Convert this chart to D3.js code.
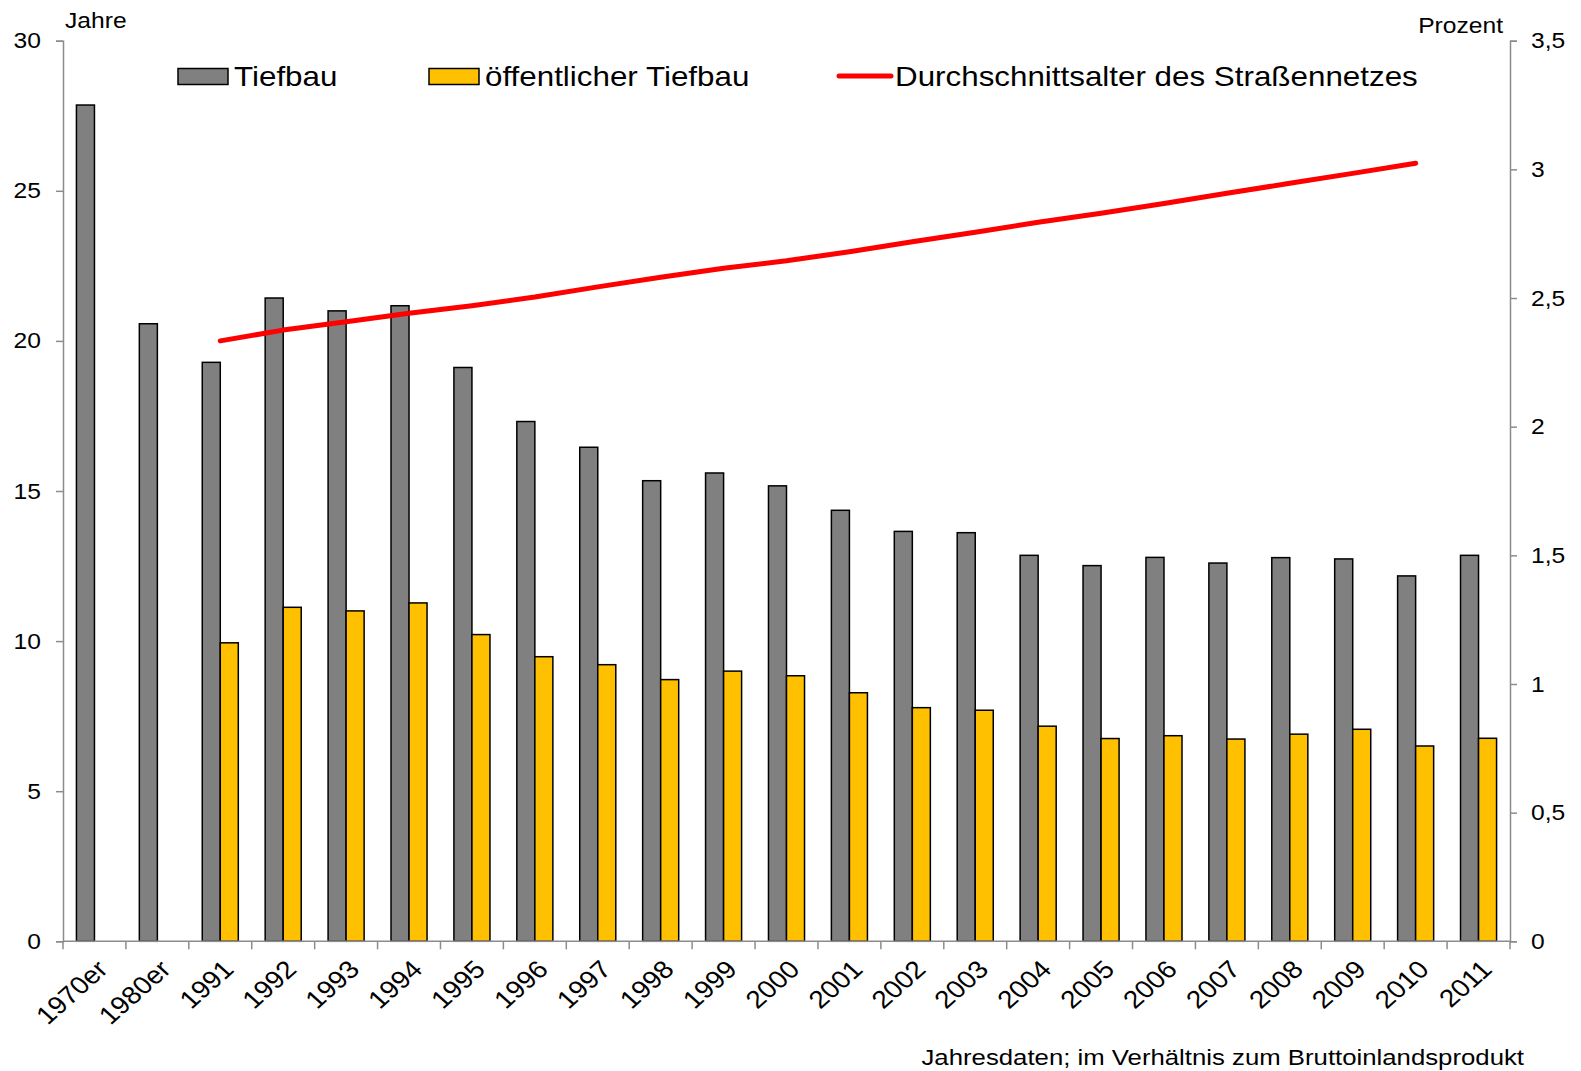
<!DOCTYPE html>
<html>
<head>
<meta charset="utf-8">
<script src="https://cdn.jsdelivr.net/npm/d3@7"></script>
<style>
  body { margin: 0; background: #fff; }
  svg { font-family: "Liberation Sans", Arial, sans-serif; }
</style>
</head>
<body>
<svg id="chart"></svg>
<script>
// categories on the x axis
const categories = ["1970er", "1980er", "1991", "1992", "1993", "1994", "1995", "1996", "1997", "1998",
  "1999", "2000", "2001", "2002", "2003", "2004", "2005", "2006", "2007", "2008", "2009", "2010", "2011"];

// Tiefbau, percent of GDP (right axis)
const tiefbau = [3.25, 2.40, 2.25, 2.50, 2.45, 2.47, 2.23, 2.02, 1.92, 1.79, 1.82, 1.77,
  1.675, 1.593, 1.588, 1.50, 1.46, 1.492, 1.47, 1.491, 1.486, 1.42, 1.50];

// öffentlicher Tiefbau, percent of GDP (right axis), none for the decades
const oeffTiefbau = [null, null, 1.16, 1.298, 1.284, 1.315, 1.192, 1.106, 1.075, 1.017, 1.05, 1.032,
  0.966, 0.908, 0.898, 0.836, 0.788, 0.799, 0.786, 0.805, 0.824, 0.759, 0.789];

// average age of the road network, years (left axis), 1991-2010
const alterYears = ["1991", "1992", "1993", "1994", "1995", "1996", "1997", "1998", "1999", "2000",
  "2001", "2002", "2003", "2004", "2005", "2006", "2007", "2008", "2009", "2010"];
const alter = [20.0, 20.36, 20.64, 20.92, 21.17, 21.46, 21.8, 22.12, 22.42, 22.67,
  22.97, 23.3, 23.62, 23.95, 24.25, 24.58, 24.92, 25.25, 25.58, 25.92];

const leftTicks = [0, 5, 10, 15, 20, 25, 30];
const rightTicks = [0, 0.5, 1, 1.5, 2, 2.5, 3, 3.5];

const width = 1581, height = 1071;
const margin = { left: 63, right: 71, top: 40.7, bottom: 129.7 };
const axisColor = "#8c8c8c";
const SX = 1.12; // text in the original is a bit wider than it is tall

const svg = d3.select("#chart").attr("width", width).attr("height", height);

const x = d3.scaleBand()
  .domain(categories)
  .range([margin.left, width - margin.right])
  .paddingInner(0.427)
  .paddingOuter(0.2135);
const xStep = d3.scaleBand().domain(categories).range([margin.left, width - margin.right]);
const xSub = d3.scaleBand().domain([0, 1]).range([0, x.bandwidth()]);

const yLeft = d3.scaleLinear().domain([0, 30]).range([height - margin.bottom, margin.top]);
const yRight = d3.scaleLinear().domain([0, 3.5]).range([height - margin.bottom, margin.top]);

// helper: text at (px,py), stretched horizontally
function label(parent, px, py, txt, size, anchor) {
  return parent.append("text")
    .attr("transform", `translate(${px},${py}) scale(${SX},1)`)
    .attr("text-anchor", anchor || "start")
    .style("font-size", size + "px")
    .text(txt);
}

// bars
const bars = svg.append("g");
const series = [{ values: tiefbau, fill: "#808080" }, { values: oeffTiefbau, fill: "#FFC000" }];
series.forEach((s, si) => {
  bars.selectAll(null)
    .data(categories.map((c, i) => ({ c, v: s.values[i] })).filter(d => d.v != null))
    .join("rect")
    .attr("x", d => x(d.c) + xSub(si))
    .attr("width", xSub.bandwidth())
    .attr("y", d => yRight(d.v))
    .attr("height", d => yRight(0) - yRight(d.v))
    .attr("fill", s.fill)
    .attr("stroke", "#000")
    .attr("stroke-width", 1.5);
});

// left axis
const gl = svg.append("g")
  .attr("transform", `translate(${margin.left},0)`)
  .call(d3.axisLeft(yLeft).tickValues(leftTicks).tickSize(7).tickPadding(15));
// right axis
const gr = svg.append("g")
  .attr("transform", `translate(${width - margin.right},0)`)
  .call(d3.axisRight(yRight).tickValues(rightTicks).tickSize(7).tickPadding(14)
    .tickFormat(d => String(d).replace(".", ",")));
[gl, gr].forEach(g => {
  g.select(".domain").attr("stroke", axisColor).attr("stroke-width", 1.5);
  g.selectAll(".tick line").attr("stroke", axisColor).attr("stroke-width", 1.5);
  g.selectAll(".tick text").attr("fill", "#000").style("font-size", "22px")
    .each(function () {
      const t = d3.select(this);
      const tx = +t.attr("x");
      t.attr("x", 0).attr("transform", `translate(${tx},0) scale(${SX},1)`);
    });
});

// bottom axis
const base = yLeft(0);
const gb = svg.append("g");
gb.append("line")
  .attr("x1", margin.left).attr("x2", width - margin.right)
  .attr("y1", base).attr("y2", base)
  .attr("stroke", axisColor).attr("stroke-width", 1.5);
gb.selectAll("line.tick")
  .data(categories.map(c => xStep(c)).concat([width - margin.right]))
  .join("line")
  .attr("class", "tick")
  .attr("x1", d => d).attr("x2", d => d)
  .attr("y1", base).attr("y2", base + 8)
  .attr("stroke", axisColor).attr("stroke-width", 1.5);
gb.selectAll("text")
  .data(categories)
  .join("text")
  .attr("transform", c => `translate(${xStep(c) + xStep.bandwidth() / 2 + 2},${base + 18}) scale(${SX},1) rotate(-45)`)
  .attr("text-anchor", "end")
  .attr("dy", "0.65em")
  .style("font-size", "25px")
  .text(c => c);

// line
const line = d3.line()
  .x((d, i) => x(alterYears[i]) + x.bandwidth() / 2)
  .y(d => yLeft(d));
svg.append("path")
  .attr("fill", "none")
  .attr("stroke", "#FF0000")
  .attr("stroke-width", 5)
  .attr("stroke-linecap", "round")
  .attr("stroke-linejoin", "round")
  .attr("d", line(alter));

// axis titles
label(svg, 65, 28, "Jahre", 22);
label(svg, 1503, 33, "Prozent", 22, "end");
label(svg, 1524, 1065, "Jahresdaten; im Verhältnis zum Bruttoinlandsprodukt", 23, "end");

// legend
const legend = svg.append("g");
const legendItems = [
  { label: "Tiefbau", type: "rect", fill: "#808080", x: 178 },
  { label: "öffentlicher Tiefbau", type: "rect", fill: "#FFC000", x: 429 },
  { label: "Durchschnittsalter des Straßennetzes", type: "line", fill: "#FF0000", x: 839 }
];
legendItems.forEach(it => {
  if (it.type === "rect") {
    legend.append("rect").attr("x", it.x).attr("y", 68.5).attr("width", 50).attr("height", 16)
      .attr("fill", it.fill).attr("stroke", "#000").attr("stroke-width", 1.5);
  } else {
    legend.append("line").attr("x1", it.x).attr("x2", it.x + 52).attr("y1", 76).attr("y2", 76)
      .attr("stroke", it.fill).attr("stroke-width", 5).attr("stroke-linecap", "round");
  }
  label(legend, it.x + 56, 86, it.label, 28);
});
</script>
</body>
</html>
